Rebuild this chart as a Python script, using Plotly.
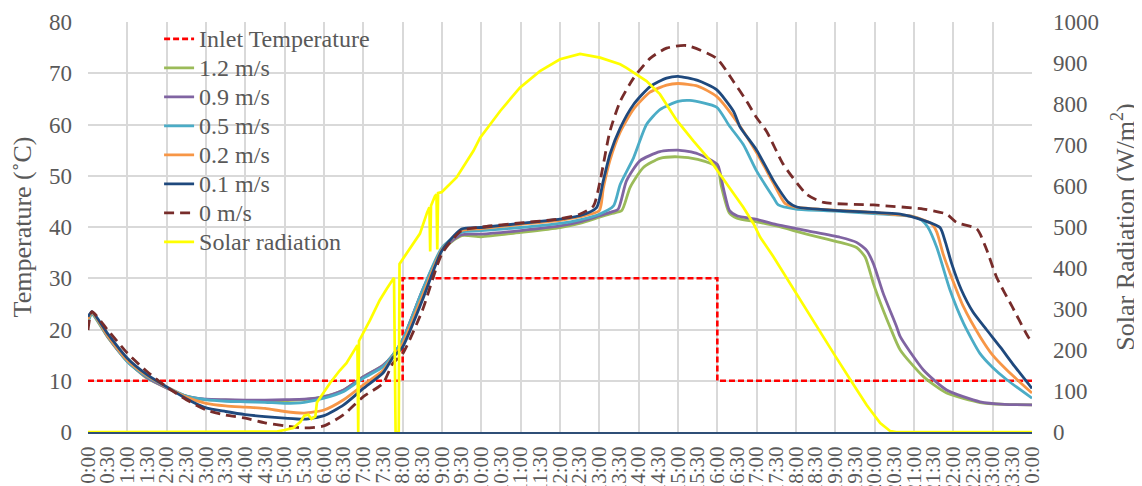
import plotly.graph_objects as go

# ---------------- data ----------------
tick_labels = ["%d:%02d" % (h % 24, m) for h in range(25) for m in (0, 30)][:49]
tick_hours = [i * 0.5 for i in range(49)]

inlet_t = [0, 8, 16, 24]
inlet_v = [10, 30, 10, 10]

v12_t = [0, 0.1, 0.5, 1, 1.5, 2, 2.5, 3, 3.5, 4, 4.5, 5, 5.5, 6, 6.5, 7, 7.5, 7.75, 8, 8.5, 9, 9.5, 10, 11, 12, 12.5, 13, 13.3,
         13.57, 13.78, 14.12, 14.54, 15.0, 15.5, 16.0, 16.1, 16.3, 16.5, 17.0, 17.5, 18.27, 19.12, 19.54, 19.76, 19.97, 20.22,
         20.39, 20.65, 21.24, 21.83, 22.68, 23.3, 24]
v12_v = [21.5, 23.0, 18.5, 13.8, 10.5, 8.6, 7.0, 6.3, 6.2, 6.1, 6.1, 6.1, 6.3, 6.9, 8.2, 10.8, 13.0, 15.0, 18.0, 27.5, 35.5, 38.3,
         38.1, 38.95, 39.9, 40.7, 41.9, 42.6, 43.2, 47.7, 51.6, 53.4, 53.7, 53.2, 51.7, 48.0, 42.8, 41.7, 41.0, 40.2, 38.6, 37.0,
         36.0, 34.1, 28.9, 23.7, 20.5, 16.0, 10.8, 7.6, 5.75, 5.4, 5.3]

v09_t = [0, 0.1, 0.5, 1, 1.5, 2, 2.5, 3, 3.5, 4, 4.5, 5, 5.5, 6, 6.5, 7, 7.5, 7.75, 8, 8.5, 9, 9.5, 10, 11, 12, 12.5, 13, 13.3,
         13.48, 13.69, 14.03, 14.54, 15.0, 15.5, 16.0, 16.15, 16.31, 16.5, 17.0, 17.43, 18.27, 19.12, 19.54, 19.8, 19.97, 20.22,
         20.56, 20.65, 21.24, 21.83, 22.68, 23.3, 24]
v09_v = [21.8, 23.3, 18.6, 13.8, 10.6, 8.6, 7.0, 6.4, 6.3, 6.2, 6.2, 6.3, 6.4, 6.9, 8.2, 10.8, 13.0, 15.0, 18.0, 27.6, 35.6, 38.5,
         38.6, 39.3, 40.2, 41.0, 42.2, 42.9, 43.5, 49.0, 52.9, 54.7, 55.0, 54.3, 52.2, 47.7, 43.2, 42.2, 41.5, 40.6, 39.3, 38.0,
         37.0, 35.4, 32.8, 27.0, 20.5, 18.6, 12.1, 8.2, 5.9, 5.4, 5.3]

v05_t = [0, 0.1, 0.5, 1, 1.5, 2, 2.5, 3, 3.5, 4, 4.5, 5, 5.5, 6, 6.5, 7, 7.5, 7.75, 8, 8.5, 9, 9.5, 10, 11, 12, 12.5, 13, 13.36,
         13.53, 13.87, 14.2, 14.54, 15.0, 15.3, 15.98, 16.3, 16.66, 17.0, 17.43, 17.55, 18.0, 19.0, 20.0, 21.0, 21.2, 21.35,
         21.58, 21.92, 22.26, 22.68, 23.0, 23.36, 24]
v05_v = [21.5, 23.0, 18.7, 13.7, 10.8, 8.8, 7.0, 6.3, 6.0, 5.9, 5.8, 5.6, 5.8, 6.6, 7.9, 10.5, 12.7, 15.0, 17.9, 27.6, 36.0, 39.0,
         39.3, 39.9, 40.7, 41.4, 42.5, 44.1, 48.3, 53.5, 60.0, 62.9, 64.5, 64.7, 63.4, 59.8, 56.1, 50.9, 45.7, 44.3, 43.5, 43.1,
         42.6, 42.0, 41.3, 40.0, 36.0, 27.6, 21.2, 15.3, 12.6, 10.2, 6.6]

v02_t = [0, 0.1, 0.5, 1, 1.5, 2, 2.5, 3, 3.5, 4, 4.5, 5, 5.5, 6, 6.5, 7, 7.5, 7.75, 8, 8.5, 9, 9.5, 10, 11, 12, 12.5, 13, 13.1,
         13.27, 13.53, 13.87, 14.29, 14.71, 15.0, 15.5, 15.98, 16.41, 17.0, 17.43, 17.72, 18.0, 19.0, 20.0, 21.0, 21.45, 21.58,
         21.75, 21.92, 22.26, 22.68, 23.0, 23.36, 24]
v02_v = [22.0, 23.3, 18.8, 14.0, 11.0, 8.8, 6.8, 5.6, 5.1, 4.85, 4.6, 4.0, 3.7, 4.3, 6.3, 9.2, 12.0, 14.6, 17.2, 26.5, 35.6, 39.3,
         39.7, 40.5, 41.3, 42.0, 43.2, 47.5, 53.0, 58.5, 63.0, 66.3, 67.7, 68.0, 67.5, 65.5, 61.5, 54.5, 48.5, 44.6, 43.9, 43.3,
         42.8, 42.0, 40.6, 39.0, 34.5, 30.9, 24.4, 18.6, 15.0, 12.1, 7.6]

v01_t = [0, 0.1, 0.5, 1, 1.5, 2, 2.5, 3, 3.5, 4, 4.5, 5, 5.5, 6, 6.5, 7, 7.5, 7.75, 8, 8.5, 9, 9.5, 10, 11, 12, 12.5, 12.93,
         13.1, 13.27, 13.53, 13.87, 14.29, 14.71, 15.0, 15.5, 15.98, 16.41, 16.58, 17.0, 17.43, 17.81, 18.02, 19.12, 20.65,
         21.15, 21.66, 21.8, 21.96, 22.2, 22.5, 22.85, 23.2, 23.5, 24]
v01_v = [22.5, 23.5, 19.2, 14.4, 11.2, 8.8, 6.5, 4.7, 4.0, 3.4, 3.0, 2.7, 2.5, 3.2, 5.3, 8.5, 11.5, 14.5, 16.6, 25.7, 35.4, 39.6,
         39.9, 40.7, 41.55, 42.2, 43.8, 49.0, 54.2, 59.3, 63.9, 67.4, 69.05, 69.4, 68.6, 66.8, 62.6, 59.5, 55.0, 49.0, 44.8,
         43.9, 43.2, 42.5, 41.55, 39.9, 37.0, 32.8, 27.8, 23.4, 19.9, 16.5, 13.4, 8.5]

v00_t = [0, 0.1, 0.5, 1, 1.5, 2, 2.5, 3, 3.5, 4, 4.5, 5, 5.5, 6, 6.5, 7, 7.5, 7.75, 8, 8.5, 9, 9.5, 10, 11, 12, 12.5, 12.85,
         13.02, 13.27, 13.53, 13.87, 14.29, 14.71, 15.22, 15.98, 16.41, 16.75, 17.0, 17.25, 17.68, 18.27, 18.7, 19.97, 21.24,
         21.83, 22.08, 22.6, 22.85, 23.1, 23.5, 23.93, 24]
v00_v = [19.9, 23.5, 19.9, 15.4, 11.8, 8.8, 6.3, 4.3, 3.3, 2.7, 1.8, 1.2, 0.8, 1.2, 3.4, 6.9, 9.5, 13.4, 15.3, 23.7, 34.8, 39.3,
         40.0, 40.8, 41.6, 42.5, 44.1, 49.0, 58.7, 64.5, 69.05, 72.9, 74.9, 75.4, 72.9, 68.4, 64.5, 61.3, 58.7, 52.2, 46.4, 44.8,
         44.3, 43.5, 42.5, 40.9, 39.6, 35.5, 30.2, 24.4, 18.25, 17.8]

solar_t = [0, 4.65, 4.8, 5.0, 5.22, 5.4, 5.5, 5.6, 5.68, 5.78, 5.82, 6.15, 6.4, 6.57, 6.85, 6.87, 6.89, 7.17, 7.42, 7.6, 7.78,
           7.82, 7.9, 7.92, 8.2, 8.44, 8.62, 8.68, 8.70, 8.72, 8.82, 8.86, 8.88, 8.90, 8.99, 9.37, 9.8, 9.97, 10.48, 10.98,
           11.49, 12.0, 12.51, 13.02, 13.53, 13.69, 14.2, 14.54, 14.97, 15.39, 15.82, 16.24, 16.66, 16.92, 17.09, 17.43, 17.85,
           18.27, 18.6, 19.0, 19.5, 19.8, 20.14, 20.4, 20.55, 24]
solar_v = [0, 0, 1, 5, 10, 25, 40, 42, 32, 38, 72, 119, 150, 168, 212, 0, 222, 273, 322, 350, 376, 0, 0, 410, 450, 484, 535, 548,
           440, 552, 575, 580, 445, 583, 585, 621, 686, 718, 783, 840, 880, 909, 922, 913, 897, 888, 856, 824, 760, 710, 662,
           605, 548, 508, 475, 427, 362, 297, 245, 185, 110, 65, 22, 2, 0, 0]

# ---------------- figure ----------------
FONT = "'Liberation Serif', 'Times New Roman', Times, serif"
GREY = "#595959"
GRID = "#D9D9D9"


def leg(name):
    return '<span style="font-size:24px">%s</span>' % name


fig = go.Figure()
fig.add_trace(go.Scatter(x=inlet_t, y=inlet_v, name=leg("Inlet Temperature"), mode="lines", line_shape="hv",
                         line=dict(color="#FF0000", width=2.6, dash="6px,3px")))
series = [
    ("1.2 m/s", v12_t, v12_v, "#9BBB59", "solid"),
    ("0.9 m/s", v09_t, v09_v, "#8064A2", "solid"),
    ("0.5 m/s", v05_t, v05_v, "#4BACC6", "solid"),
    ("0.2 m/s", v02_t, v02_v, "#F79646", "solid"),
    ("0.1 m/s", v01_t, v01_v, "#1F497D", "solid"),
    ("0 m/s", v00_t, v00_v, "#772C2A", "10px,6px"),
]
for name, t, v, c, d in series:
    fig.add_trace(go.Scatter(x=t, y=v, name=leg(name), mode="lines",
                             line=dict(color=c, width=2.8, dash=d, shape="spline", smoothing=0.6)))
fig.add_trace(go.Scatter(x=solar_t, y=solar_v, name=leg("Solar radiation"), mode="lines", xaxis="x2", yaxis="y2",
                         line=dict(color="#FFFF00", width=2.7)))

fig.update_layout(
    width=1134, height=478,
    margin=dict(l=80, r=110, t=13, b=54),
    paper_bgcolor="white", plot_bgcolor="white",
    font=dict(family=FONT, color=GREY, size=22),
    showlegend=True,
    legend=dict(x=0.0753, y=1.004, xanchor="left", yanchor="top", bgcolor="rgba(0,0,0,0)", maxheight=440,
                font=dict(family=FONT, size=20, color=GREY), tracegroupgap=0),
    xaxis=dict(range=[0, 24], tickmode="array", tickvals=tick_hours, ticktext=tick_labels, tickangle=-90,
               showgrid=False, zeroline=False, ticks="", showline=True, linecolor="#2F4F77", linewidth=2,
               layer="below traces", automargin=False, ticklabelstandoff=4,
               tickfont=dict(size=21, color=GREY, family=FONT)),
    xaxis2=dict(range=[0, 24], overlaying="x", tickmode="linear", tick0=0, dtick=1, showgrid=True, gridcolor=GRID,
                gridwidth=1.6, showticklabels=False, ticks="", zeroline=False, showline=False, automargin=False),
    yaxis=dict(range=[0, 80], dtick=10, showgrid=True, gridcolor=GRID, gridwidth=1.6, zeroline=False, ticks="",
               ticklabelstandoff=15, automargin=False, tickfont=dict(size=23, color=GREY, family=FONT),
               title=dict(text="Temperature (˚C)", standoff=13, font=dict(size=26, color=GREY, family=FONT))),
    yaxis2=dict(range=[0, 1000], dtick=100, overlaying="y", side="right", anchor="x2", showgrid=False, zeroline=False,
                ticks="", ticklabelstandoff=20, automargin=False, tickfont=dict(size=23, color=GREY, family=FONT),
                title=dict(text="Solar Radiation (W/m<sup>2</sup>)", standoff=17,
                           font=dict(size=26, color=GREY, family=FONT))),
)
fig.write_html("out.html")
